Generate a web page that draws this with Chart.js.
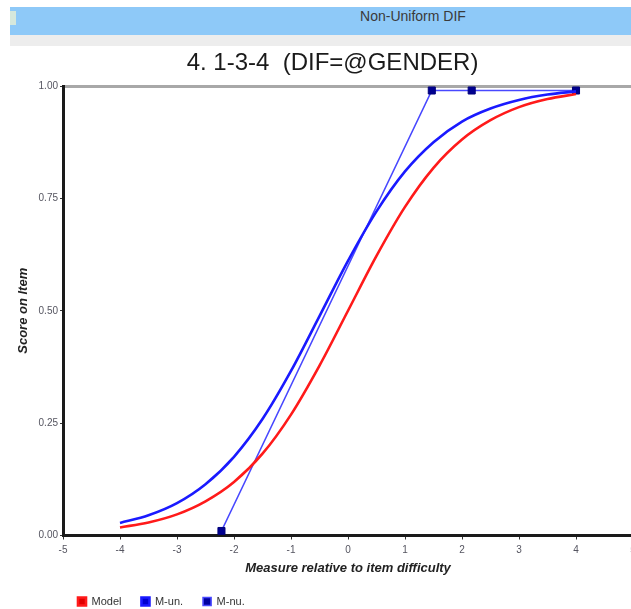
<!DOCTYPE html>
<html>
<head>
<meta charset="utf-8">
<title>Non-Uniform DIF</title>
<script src="https://cdn.jsdelivr.net/npm/chart.js@4/dist/chart.umd.min.js"></script>
<style>
  html, body { margin: 0; padding: 0; background: #fff; overflow: hidden; width: 631px; height: 609px; }
  #titleBar { position: absolute; left: 10px; top: 7px; width: 621px; height: 28px; background: #8ec9f8; }
  #titleBar span { position: absolute; left: 293px; width: 220px; top: 1px; line-height: 28px; text-align: center;
    font: 14px "Liberation Sans", Arial, sans-serif; color: #3a3a3a; }
  #icon { position: absolute; left: 0; top: 4px; width: 6px; height: 14px; background: #d6e8dc; }
  #band { position: absolute; left: 10px; top: 35px; width: 621px; height: 11px; background: #ededed; }
  #chartDif { position: absolute; left: 0; top: 45px; }
</style>
</head>
<body>
<div id="titleBar"><div id="icon"></div><span>Non-Uniform DIF</span></div>
<div id="band"></div>
<canvas id="chartDif" width="660" height="572"></canvas>
<script>
// measures along the x axis where the smooth curves were read
const curveMeasures = [-4, -3.5, -3, -2.5, -2, -1.5, -1, -0.5, 0, 0.5, 1, 1.5, 2, 2.5, 3, 3.5, 4];
// Model curve (red)
const modelScores = [0.018, 0.029, 0.047, 0.076, 0.119, 0.182, 0.269, 0.378, 0.500, 0.622, 0.731, 0.818, 0.881, 0.924, 0.953, 0.971, 0.982];
// M-un. curve (blue)
const mUnScores = [0.028, 0.045, 0.072, 0.114, 0.175, 0.259, 0.366, 0.488, 0.611, 0.721, 0.810, 0.875, 0.921, 0.950, 0.969, 0.981, 0.988];
// M-nu. observed points (blue with markers)
const mNuMeasures = [-2.22, 1.47, 2.17, 4.0];
const mNuScores = [0.01, 0.99, 0.99, 0.99];

const yTickLabels = ['0.00', '0.25', '0.50', '0.75', '1.00'];
const seriesNames = ['Model', 'M-un.', 'M-nu.'];

const FONT = "'Liberation Sans', Arial, sans-serif";

function toPoints(xs, ys) {
    return xs.map((x, i) => ({ x: x, y: ys[i] }));
}

// nudge title and legend to where the original has them
const blockShift = {
    id: 'blockShift',
    afterLayout(chart) {
        chart.legend.left += 58;
        chart.legend.right += 58;
        chart.titleBlock.left += 16;
        chart.titleBlock.right += 16;
    }
};

const ctx = document.getElementById('chartDif').getContext('2d');
const chart = new Chart(ctx, {
    type: 'line',
    data: {
        datasets: [{
            label: seriesNames[0],
            data: toPoints(curveMeasures, modelScores),
            borderColor: '#ff1a1a',
            backgroundColor: '#e00000',
            borderWidth: 2.6,
            pointRadius: 0,
            cubicInterpolationMode: 'monotone'
        }, {
            label: seriesNames[1],
            data: toPoints(curveMeasures, mUnScores),
            borderColor: '#1a1aff',
            backgroundColor: '#0000d0',
            borderWidth: 2.6,
            pointRadius: 0,
            cubicInterpolationMode: 'monotone'
        }, {
            label: seriesNames[2],
            data: toPoints(mNuMeasures, mNuScores),
            borderColor: '#4848ff',
            backgroundColor: '#0000a0',
            borderWidth: 1.6,
            tension: 0,
            pointStyle: 'rect',
            pointRadius: 5,
            pointBackgroundColor: '#000090',
            pointBorderColor: '#00007a',
            pointBorderWidth: 1
        }]
    },
    options: {
        responsive: false,
        animation: false,
        layout: { padding: { left: 0, right: 27, top: 0, bottom: 0 } },
        plugins: {
            title: {
                display: true,
                text: '4. 1-3-4  (DIF=@GENDER)',
                color: '#1a1a1a',
                font: { family: FONT, size: 24, weight: 'normal' },
                padding: { top: 4, bottom: 8.2 }
            },
            legend: {
                position: 'bottom',
                align: 'start',
                labels: {
                    boxWidth: 8,
                    boxHeight: 8,
                    padding: 20,
                    color: '#333',
                    font: { family: FONT, size: 11 }
                }
            },
            tooltip: { enabled: false }
        },
        scales: {
            x: {
                type: 'linear',
                min: -5,
                max: 5,
                ticks: {
                    stepSize: 1,
                    padding: 4.5,
                    color: '#555560',
                    font: { family: FONT, size: 10 }
                },
                grid: { drawOnChartArea: false, drawTicks: true, tickLength: 4, tickColor: '#333', tickWidth: 1 },
                border: { display: true, color: '#1a1a1a', width: 3 },
                title: {
                    display: true,
                    text: 'Measure relative to item difficulty',
                    color: '#222',
                    font: { family: FONT, size: 13, weight: 'bold', style: 'italic' },
                    padding: { top: 0, bottom: 0 }
                },
                afterFit(scale) { scale.height = 40.5; }
            },
            y: {
                type: 'linear',
                min: 0,
                max: 1,
                ticks: {
                    stepSize: 0.25,
                    padding: 2,
                    color: '#555560',
                    font: { family: FONT, size: 10 },
                    callback: (v) => yTickLabels[Math.round(v * 4)]
                },
                grid: {
                    drawTicks: true,
                    tickLength: 3,
                    tickColor: '#333',
                    tickWidth: 1,
                    color: (c) => (c.tick && c.tick.value === 1) ? '#a8a8a8' : 'rgba(0,0,0,0)',
                    lineWidth: (c) => (c.tick && c.tick.value === 1) ? 3 : 1
                },
                border: { display: true, color: '#1a1a1a', width: 3 },
                title: {
                    display: true,
                    text: 'Score on Item',
                    color: '#222',
                    font: { family: FONT, size: 13, weight: 'bold', style: 'italic' },
                    padding: { top: 16, bottom: 0 }
                },
                afterFit(scale) { scale.width = 63; }
            }
        }
    },
    plugins: [blockShift]
});
</script>
</body>
</html>
